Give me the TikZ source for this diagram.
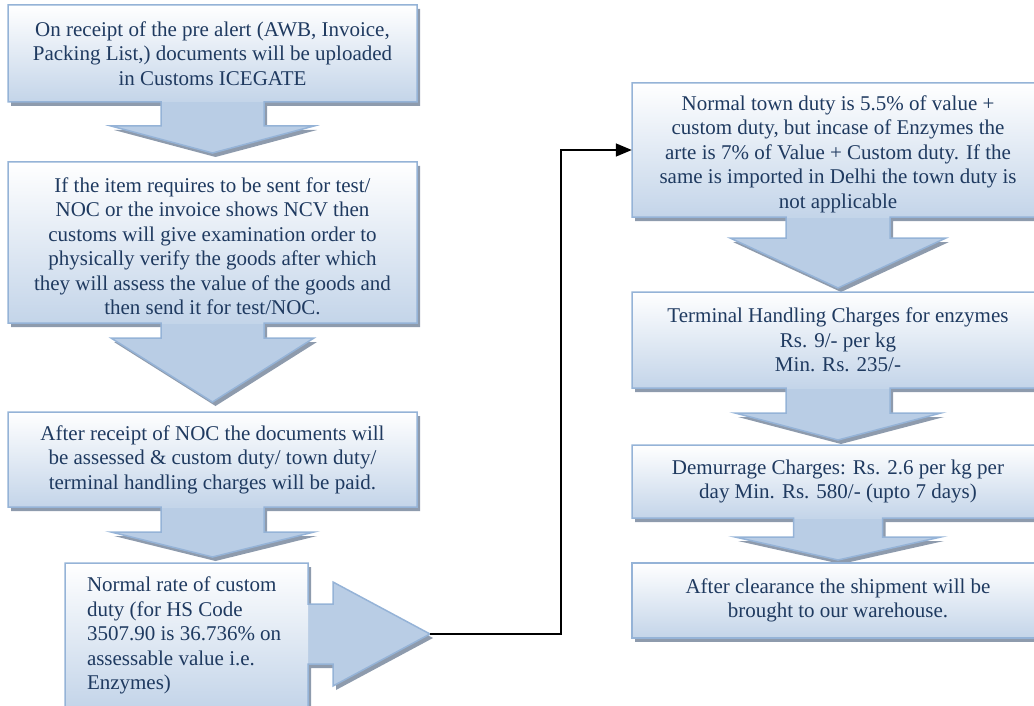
\documentclass[tikz,border=0pt]{standalone}
\usepackage{fontspec}
\setmainfont{Liberation Serif}
\usepackage{xcolor}
\usepackage{tikz}
\usetikzlibrary{calc, positioning, arrows.meta}

\definecolor{callborder}{HTML}{95B3D7}
\definecolor{callfill}{HTML}{B9CDE5}
\definecolor{callshade}{HTML}{8E9BAD}
\definecolor{calltext}{HTML}{1F3A60}

\begin{document}
\begin{tikzpicture}[x=1pt, y=-1pt,
    every node/.style={font=\fontsize{21}{24.5}\selectfont, text=calltext, inner sep=0pt},
    callline/.style={draw=callborder, line width=1.5pt, line join=miter},
    callshadow/.style={fill=callshade, shift={(3,4)}},
    connector/.style={line width=1.5pt, -{Triangle[length=16pt, width=13pt]}}]
    \useasboundingbox (0,0) rectangle (1034,706);
    \clip (0,0) rectangle (1034,706);
    % Down callouts: box, stem half width, head half width, stem end, tip
    \foreach \nm/\xa/\xb/\ya/\yb/\sw/\hw/\ys/\yt in {lb1/8/417/5/102/51.5/101.5/126/153,
        lb2/8/417/162/323/51.5/101.5/338/402, lb3/8/417/412/507/51.5/101.5/532/557,
        rb1/632/1044/83/217/52/108/238/288, rb2/632/1044/292/388/52/103/413/440,
        rb3/632/1044/445/518/44.5/103/537/560} {
        \pgfmathsetmacro{\cx}{(\xa+\xb)/2}
        \def\callout{(\xa,\ya) -- (\xb,\ya) -- (\xb,\yb) -- (\cx+\sw,\yb) -- (\cx+\sw,\ys)
            -- (\cx+\hw,\ys) -- (\cx,\yt) -- (\cx-\hw,\ys) -- (\cx-\sw,\ys) -- (\cx-\sw,\yb)
            -- (\xa,\yb) -- cycle}
        \fill[callshadow] \callout;
        \fill[callfill] \callout;
        \shade[top color=white, bottom color=callfill!85] (\xa,\ya) rectangle (\xb,\yb);
        \draw[callline] \callout;
        \node[minimum width={(\xb-\xa)*1pt}, minimum height={(\yb-\ya)*1pt}] (\nm) at (\cx,{(\ya+\yb)/2}) {};
    }
    % Right callout that feeds the connector
    \def\callout{(65,563) -- (308,563) -- (308,604) -- (333,604) -- (333,582) -- (430,634)
        -- (333,686) -- (333,664) -- (308,664) -- (308,708) -- (65,708) -- cycle}
    \fill[callshadow] \callout;
    \fill[callfill] \callout;
    \shade[top color=white, bottom color=callfill!85] (65,563) rectangle (308,708);
    \draw[callline] \callout;
    \node[minimum width=243pt, minimum height=145pt] (lb4) at (186.5,635.5) {};
    \coordinate (tipL4) at (430,634);
    % Last box, no arrow
    \fill[callshadow] (632,563) rectangle (1044,638);
    \shade[top color=white, bottom color=callfill!85] (632,563) rectangle (1044,638);
    \draw[callline] (632,563) rectangle (1044,638);
    \node[minimum width=412pt, minimum height=75pt] (rb4) at (838,600.5) {};

    % Texts
    \node[align=center] (lb1txt) at (lb1) {On receipt of the pre alert (AWB, Invoice,\\Packing List,) documents will be uploaded\\in Customs ICEGATE};
    \node[align=center] (lb2txt) at ($(lb2)+(0,4)$) {If the item requires to be sent for test/\\NOC or the invoice shows NCV then\\customs will give examination order to\\physically verify the goods after which\\they will assess the value of the goods and\\then send it for test/NOC.};
    \node[align=center] (lb3txt) at (lb3) {After receipt of NOC the documents will\\be assessed \& custom duty/ town duty/\\terminal handling charges will be paid.};
    \node[align=left, right=22pt of lb4.west] (lb4txt) {Normal rate of custom\\duty (for HS Code\\3507.90 is 36.736\% on\\assessable value i.e.\\Enzymes)};
    \node[align=center] (rb1txt) at ($(rb1)+(0,4)$) {Normal town duty is 5.5\% of value +\\custom duty, but incase of Enzymes the\\arte is 7\% of Value + Custom duty. If the\\same is imported in Delhi the town duty is\\not applicable};
    \node[align=center] (rb2txt) at (rb2) {Terminal Handling Charges for enzymes\\Rs. 9/- per kg\\Min. Rs. 235/-};
    \node[align=center] (rb3txt) at (rb3) {Demurrage Charges: Rs. 2.6 per kg per\\day Min. Rs. 580/- (upto 7 days)};
    \node[align=center] (rb4txt) at (rb4) {After clearance the shipment will be\\brought to our warehouse.};

    % Connector from the right callout to the first box on the right
    \coordinate (bend) at (561,634);
    \draw[connector] (tipL4) -- (bend) |- (rb1.west);
\end{tikzpicture}
\end{document}
